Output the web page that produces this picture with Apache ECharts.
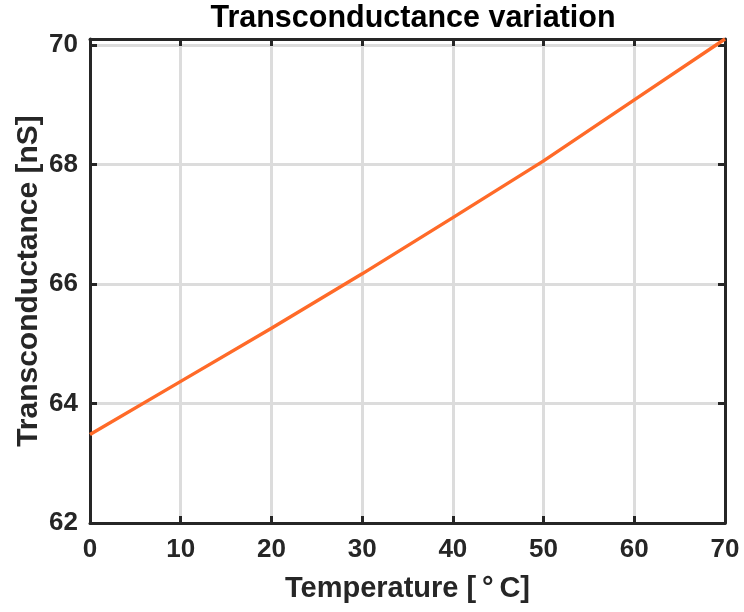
<!DOCTYPE html>
<html>
<head>
<meta charset="utf-8">
<script src="https://cdn.jsdelivr.net/npm/echarts@6/dist/echarts.min.js"></script>
<style>
  html, body { margin: 0; padding: 0; background: #fff; }
  #chart { width: 744px; height: 612px; }
</style>
</head>
<body>
<div id="chart"></div>
<script>
// Temperature sweep (°C) and measured transconductance (nS)
var temperatures = [0, 10, 20, 30, 40, 50, 60, 70];
var transconductance = [63.48, 64.37, 65.26, 66.17, 67.11, 68.06, 69.08, 70.10];

var xTicks = { min: 0, max: 70, interval: 10 };
var yTicks = { min: 62, max: 70.1, interval: 2 };

var FONT = 'Liberation Sans';
var INK = '#262626';

var points = temperatures.map(function (t, i) { return [t, transconductance[i]]; });

function frameAxis(pos, range, withLabels, name) {
  var isX = pos === 'bottom' || pos === 'top';
  return {
    type: 'value',
    position: pos,
    min: range.min,
    max: range.max,
    interval: range.interval,
    name: withLabels ? name : '',
    nameLocation: 'middle',
    nameGap: isX ? 51 : 46,
    nameMoveOverlap: false,
    nameTextStyle: { fontFamily: FONT, fontWeight: 'bold', fontSize: isX ? 29 : 30, color: INK },
    axisLine: { show: true, onZero: false, lineStyle: { color: INK, width: 3 } },
    axisTick: { show: true, inside: true, length: 7, lineStyle: { color: INK, width: 3 } },
    axisLabel: {
      show: withLabels,
      margin: isX ? 14 : 12,
      fontFamily: FONT, fontWeight: 'bold', fontSize: 26, color: INK,
      formatter: function (v) {
        return Math.abs(v / range.interval - Math.round(v / range.interval)) < 1e-6 ? String(Math.round(v)) : '';
      }
    },
    splitLine: { show: withLabels, lineStyle: { color: '#dcdcdc', width: 3 } }
  };
}

var chart = echarts.init(document.getElementById('chart'), null, { renderer: 'canvas' });
chart.setOption({
  backgroundColor: '#ffffff',
  animation: false,
  title: {
    text: 'Transconductance variation',
    left: 408, top: -2, textAlign: 'center',
    textStyle: { fontFamily: FONT, fontWeight: 'bold', fontSize: 30.5, color: '#000' }
  },
  grid: { left: 90, right: 19, top: 39, bottom: 89, containLabel: false },
  xAxis: [
    frameAxis('bottom', xTicks, true, 'Temperature [\u2009\u00B0\u2009C]'),
    frameAxis('top', xTicks, false, '')
  ],
  yAxis: [
    frameAxis('left', yTicks, true, 'Transconductance [nS]'),
    frameAxis('right', yTicks, false, '')
  ],
  series: [{
    type: 'line',
    data: points,
    xAxisIndex: 0,
    yAxisIndex: 0,
    showSymbol: false,
    clip: false,
    z: 5,
    lineStyle: { color: '#ff6a28', width: 3.4 }
  }]
});
</script>
</body>
</html>
